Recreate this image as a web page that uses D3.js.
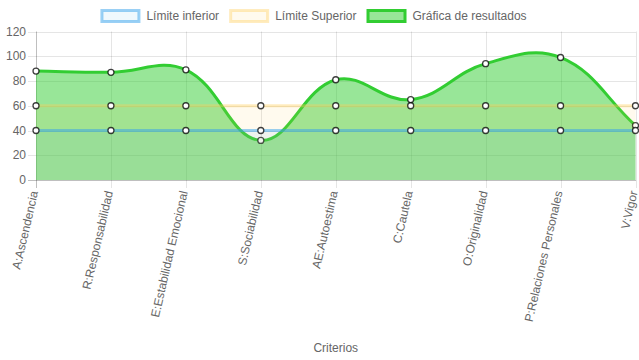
<!DOCTYPE html>
<html><head><meta charset="utf-8">
<script src="https://cdn.jsdelivr.net/npm/d3@7"></script>
<style>body{margin:0;background:#fff}svg{display:block;font-family:"Liberation Sans",Arial,Helvetica,sans-serif}</style>
</head><body><svg id="c" width="639" height="360"></svg>
<script>
const categories = ["A:Ascendencia","R:Responsabilidad","E:Estabilidad Emocional","S:Sociabilidad","AE:Autoestima","C:Cautela","O:Originalidad","P:Relaciones Personales","V:Vigor"];
const limiteInferior = [40,40,40,40,40,40,40,40,40];
const limiteSuperior = [60,60,60,60,60,60,60,60,60];
const resultados = [88,87,89,32,81,65,94,99,44];
const yTicks = [0,20,40,60,80,100,120];
const seriesNames = ["Límite inferior","Límite Superior","Gráfica de resultados"];
const xTitle = "Criterios";

(function(){
const series = [
  {name: seriesNames[0], values: limiteInferior, stroke: "rgba(54,162,235,0.5)", fill: "rgba(54,162,235,0.08)"},
  {name: seriesNames[1], values: limiteSuperior, stroke: "rgba(255,205,86,0.38)", fill: "rgba(255,205,86,0.1)"},
  {name: seriesNames[2], values: resultados, stroke: "rgb(50,205,50)", fill: "rgba(50,205,50,0.5)"}
];

const svg = d3.select("#c");
const x = d3.scalePoint().domain(categories).range([36, 635.5]);
const y = d3.scaleLinear().domain([0,120]).range([180, 31.5]);
const yTop = y(120), yBot = y(0);

// grid
const g = svg.append("g");
g.selectAll(".hg").data(yTicks).enter().append("line")
  .attr("x1", 28).attr("x2", 636).attr("y1", d=>Math.round(y(d))+0.5).attr("y2", d=>Math.round(y(d))+0.5)
  .attr("stroke", d => d===0 ? "rgba(0,0,0,0.25)" : "rgba(0,0,0,0.1)");
g.selectAll(".vg").data(categories).enter().append("line")
  .attr("x1", d=>Math.round(x(d))+0.5).attr("x2", d=>Math.round(x(d))+0.5).attr("y1", yTop).attr("y2", yBot+8)
  .attr("stroke", (d,i) => i===0 ? "rgba(0,0,0,0.25)" : "rgba(0,0,0,0.1)");

// y labels
g.selectAll(".yl").data(yTicks).enter().append("text")
  .attr("x", 26).attr("y", d=>y(d)).attr("dy","0.35em").attr("text-anchor","end")
  .attr("font-size",12).attr("fill","#666").text(d=>d);

// x labels
g.selectAll(".xl").data(categories).enter().append("text")
  .attr("transform", d=>`translate(${x(d)-2},${yBot+11}) rotate(-77)`)
  .attr("text-anchor","end").attr("dy","0.35em")
  .attr("font-size",12).attr("fill","#666").text(d=>d);

svg.append("text").attr("x", (x.range()[0]+x.range()[1])/2).attr("y", 348).attr("dy","0.35em")
  .attr("text-anchor","middle").attr("font-size",12).attr("fill","#666").text(xTitle);

// Chart.js-like spline
function controlPoints(pts, t) {
  const cps = [];
  for (let i=0;i<pts.length;i++){
    const cur = pts[i];
    const prev = i>0 ? pts[i-1] : cur;
    const next = i<pts.length-1 ? pts[i+1] : cur;
    const d01 = Math.hypot(cur[0]-prev[0], cur[1]-prev[1]);
    const d12 = Math.hypot(next[0]-cur[0], next[1]-cur[1]);
    let s01 = d01/(d01+d12), s12 = d12/(d01+d12);
    if (isNaN(s01)) s01 = 0; if (isNaN(s12)) s12 = 0;
    const fa = t*s01, fb = t*s12;
    const clampY = v => Math.max(yTop, Math.min(yBot, v));
    cps.push({
      p: [cur[0]-fa*(next[0]-prev[0]), clampY(cur[1]-fa*(next[1]-prev[1]))],
      n: [cur[0]+fb*(next[0]-prev[0]), clampY(cur[1]+fb*(next[1]-prev[1]))]
    });
  }
  return cps;
}
function splinePath(pts, ctx) {
  const cps = controlPoints(pts, 0.4);
  ctx.moveTo(pts[0][0], pts[0][1]);
  for (let i=1;i<pts.length;i++){
    ctx.bezierCurveTo(cps[i-1].n[0], cps[i-1].n[1], cps[i].p[0], cps[i].p[1], pts[i][0], pts[i][1]);
  }
  return ctx;
}

const plot = svg.append("g");
for (let k = series.length-1; k>=0; k--) {
  const s = series[k];
  const pts = categories.map((c,i)=>[x(c), y(s.values[i])]);
  const area = d3.path();
  splinePath(pts, area);
  area.lineTo(pts[pts.length-1][0], yBot);
  area.lineTo(pts[0][0], yBot);
  area.closePath();
  plot.append("path").attr("d", area.toString()).attr("fill", s.fill);
  const line = d3.path();
  splinePath(pts, line);
  plot.append("path").attr("d", line.toString()).attr("fill","none").attr("stroke", s.stroke).attr("stroke-width",3);
  plot.selectAll(null).data(pts).enter().append("circle")
    .attr("cx", d=>d[0]).attr("cy", d=>d[1]).attr("r",3)
    .attr("fill","#fff").attr("stroke","rgba(0,0,0,0.75)").attr("stroke-width",1.3);
}

// legend
const leg = svg.append("g");
const items = series.map(s=>{
  const t = leg.append("text").attr("font-size",12).attr("fill","#666").attr("y",16).attr("dy","0.35em").text(s.name);
  return {s, t, w: t.node().getComputedTextLength()};
});
const boxW = 40, gap = 10;
const total = d3.sum(items, d=>boxW+6+d.w) + gap*(items.length-1);
let cx = 313.5 - total/2;
items.forEach(it=>{
  leg.append("rect").attr("x", cx+1.5).attr("y", 10.5).attr("width", boxW-3).attr("height", 11)
    .attr("fill", it.s.fill).attr("stroke", it.s.stroke).attr("stroke-width",3);
  it.t.attr("x", cx+boxW+6);
  cx += boxW+6+it.w+gap;
});
})();
</script></body></html>
